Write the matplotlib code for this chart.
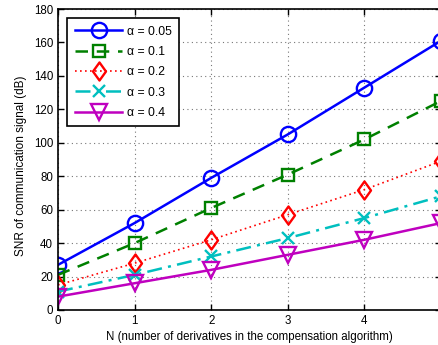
import matplotlib
matplotlib.use("Agg")
import matplotlib.pyplot as plt
from matplotlib.path import Path

N = [0, 1, 2, 3, 4, 5]
labels = ["α = 0.05", "α = 0.1", "α = 0.2", "α = 0.3", "α = 0.4"]
snr_005 = [27, 52, 79, 105, 133, 161]
snr_01 = [21, 40, 61, 81, 102, 125]
snr_02 = [15, 28, 42, 57, 72, 89]
snr_03 = [11, 21, 32, 43, 55, 68]
snr_04 = [8, 16, 24, 33, 42, 52]

diamond = Path([(0, 1), (0.72, 0), (0, -1), (-0.72, 0), (0, 1)],
               [Path.MOVETO, Path.LINETO, Path.LINETO, Path.LINETO, Path.CLOSEPOLY])

series = [snr_005, snr_01, snr_02, snr_03, snr_04]
colors = ["#0000ff", "#008000", "#ff0000", "#00bfbf", "#bf00bf"]
styles = ["-", (0, (5, 3.5)), (0, (1, 2)), (0, (6, 2.5, 1.2, 2.5)), "-"]
lws = [1.8, 1.8, 1.2, 1.8, 1.8]
markers = ["o", "s", diamond, "x", "v"]
msizes = [11, 8, 13, 8, 11]

plt.rcParams['font.family'] = ['Liberation Sans', 'DejaVu Sans']
fig = plt.figure(figsize=(4.39, 3.45), dpi=100)
W, H = 439, 345
left, right, top, bottom = 58, 441, 9, 310
ax = fig.add_axes([left / W, 1 - bottom / H, (right - left) / W, (bottom - top) / H])

for ys, c, ls, lw, m, ms, lab in zip(series, colors, styles, lws, markers, msizes, labels):
    ax.plot(N, ys, color=c, linestyle=ls, marker=m, markersize=ms,
            markerfacecolor='none', markeredgecolor=c, markeredgewidth=1.7,
            linewidth=lw, label=lab)

ax.set_xlim(0, 5)
ax.set_ylim(0, 180)
ax.set_xticks(N)
ax.set_yticks(range(0, 181, 20))
ax.grid(True, color='#777777', linestyle=(0, (1, 3)), linewidth=0.8)
ax.tick_params(direction='in', top=True, right=True, labelsize=8.3, length=4, width=1)
for s in ax.spines.values():
    s.set_linewidth(1.2)
ax.set_xlabel("N (number of derivatives in the compensation algorithm)", fontsize=8.3, labelpad=3)
ax.set_ylabel("SNR of communication signal (dB)", fontsize=8.5)
ax.yaxis.set_label_coords(-0.081, 0.478)

leg = ax.legend(loc='upper left', bbox_to_anchor=(0.015, 0.981), fontsize=8.8,
                fancybox=False, framealpha=1, edgecolor='black',
                handlelength=3.9, borderpad=0.6, labelspacing=0.68, handletextpad=0.35,
                borderaxespad=0.3)
leg.get_frame().set_linewidth(1.2)

fig.savefig("out.png", dpi=100)
